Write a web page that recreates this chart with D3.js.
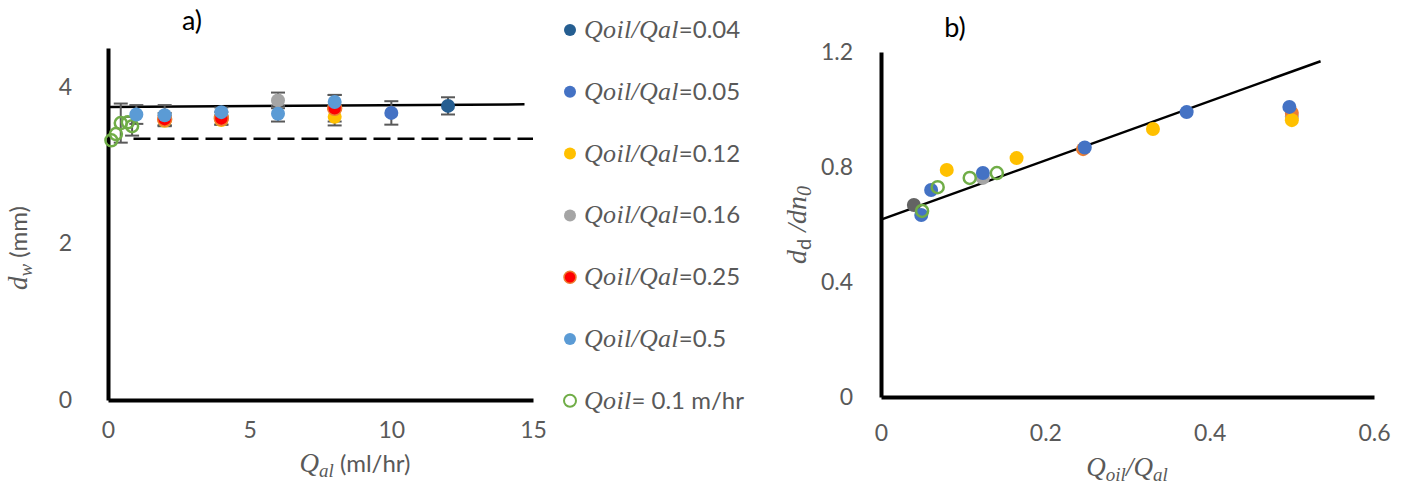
<!DOCTYPE html>
<html>
<head>
<meta charset="utf-8">
<script src="https://cdn.jsdelivr.net/npm/d3@7"></script>
<style>
  body { margin: 0; background: #fff; }
  svg { display: block; }
  .tick text { font-family: Lato, "Open Sans", sans-serif; font-size: 23px; fill: #595959; }
  .axis path.domain { stroke: #000; stroke-width: 4; }
  .lbl { font-family: Lato, "Open Sans", sans-serif; font-size: 23px; fill: #595959; }
  .math { font-family: "Liberation Serif", "DejaVu Serif", serif; font-style: italic; }
</style>
</head>
<body>
<div id="plot"></div>
<script>
const WIDTH  = 1408;
const HEIGHT = 491;

// ---- chart a) : d_w vs Q_al ----
const A_X_TICKS = [0, 5, 10, 15];
const A_Y_TICKS = [0, 2, 4];

// each series: x (ml/hr), y (mm), error (mm)
const A_NAVY_X   = [12];
const A_NAVY_Y   = [3.76];
const A_NAVY_E   = [0.11];
const A_BLUE_X   = [10];
const A_BLUE_Y   = [3.67];
const A_BLUE_E   = [0.15];
const A_YEL_X    = [2, 4, 8];
const A_YEL_Y    = [3.57, 3.58, 3.62];
const A_YEL_E    = [0.07, 0.06, 0.11];
const A_GREY_X   = [6];
const A_GREY_Y   = [3.83];
const A_GREY_E   = [0.10];
const A_RED_X    = [2, 4, 8];
const A_RED_Y    = [3.59, 3.60, 3.73];
const A_RED_E    = [0.08, 0.08, 0.17];
const A_LBLUE_X  = [1, 2, 4, 6, 8];
const A_LBLUE_Y  = [3.65, 3.64, 3.68, 3.66, 3.81];
const A_LBLUE_E  = [0.12, 0.13, 0.06, 0.10, 0.09];
const A_GREEN_X  = [0.12, 0.28, 0.45, 0.7, 0.85];
const A_GREEN_Y  = [3.32, 3.40, 3.54, 3.55, 3.50];
const A_GREEN_E  = [0.0, 0.0, 0.25, 0.0, 0.12];

const A_FIT_X    = [0, 14.7];
const A_FIT_Y    = [3.745, 3.78];
const A_DASH_X   = [0.9, 15];
const A_DASH_Y   = [3.34, 3.34];

// ---- chart b) : d_d/dn_0 vs Q_oil/Q_al ----
const B_X_TICKS = [0, 0.2, 0.4, 0.6];
const B_Y_TICKS = [0, 0.4, 0.8, 1.2];

const B_DARK_X  = [0.04];
const B_DARK_Y  = [0.668];
const B_GREY_X  = [0.124, 0.5];
const B_GREY_Y  = [0.762, 0.975];
const B_ORNG_X  = [0.246, 0.5];
const B_ORNG_Y  = [0.862, 0.988];
const B_YEL_X   = [0.08, 0.165, 0.331, 0.5];
const B_YEL_Y   = [0.79, 0.831, 0.932, 0.963];
const B_BLUE_X  = [0.049, 0.061, 0.124, 0.248, 0.372, 0.497];
const B_BLUE_Y  = [0.633, 0.72, 0.779, 0.868, 0.991, 1.009];
const B_GREEN_X = [0.05, 0.069, 0.108, 0.141];
const B_GREEN_Y = [0.647, 0.73, 0.762, 0.779];

const B_FIT_X   = [0, 0.535];
const B_FIT_Y   = [0.617, 1.168];

// ---- legend ----
const LEGEND_MATH = ["Qoil/Qal", "Qoil/Qal", "Qoil/Qal", "Qoil/Qal", "Qoil/Qal", "Qoil/Qal", "Qoil"];
const LEGEND_TEXT = ["=0.04", "=0.05", "=0.12", "=0.16", "=0.25", "=0.5", "= 0.1 m/hr"];
const LEGEND_FILL = ["#255e91", "#4472c4", "#ffc000", "#a5a5a5", "#ff0000", "#5b9bd5", "none"];
const LEGEND_STROKE = ["none", "none", "none", "none", "#ed7d31", "none", "#70ad47"];

var svg = d3.select("#plot")
            .append("svg")
            .attr("width", WIDTH)
            .attr("height", HEIGHT);

function zip(xs, ys, es) {
    return xs.map((x, i) => ({x: x, y: ys[i], e: es ? es[i] : 0}));
}

// ================= chart a =================
var xA = d3.scaleLinear().domain([0, 15]).range([108, 533]);
var yA = d3.scaleLinear().domain([0, 4.5]).range([400, 48]);

svg.append("g")
   .attr("class", "axis")
   .attr("transform", "translate(0," + yA(0) + ")")
   .call(d3.axisBottom(xA).tickValues(A_X_TICKS).tickSize(0).tickSizeOuter(0).tickPadding(22).tickFormat(d3.format("d")));
svg.append("g")
   .attr("class", "axis")
   .attr("transform", "translate(" + xA(0) + ",0)")
   .call(d3.axisLeft(yA).tickValues(A_Y_TICKS).tickSize(0).tickSizeOuter(0).tickPadding(36).tickFormat(d3.format("d")));

var lineA = d3.line().x(d => xA(d.x)).y(d => yA(d.y));
svg.append("path")
   .attr("d", lineA(zip(A_DASH_X, A_DASH_Y)))
   .attr("fill", "none").attr("stroke", "#000")
   .attr("stroke-width", 2.5).attr("stroke-dasharray", "17,7");
svg.append("path")
   .attr("d", lineA(zip(A_FIT_X, A_FIT_Y)))
   .attr("fill", "none").attr("stroke", "#000")
   .attr("stroke-width", 2.5);

var seriesA = [
    {pts: zip(A_GREEN_X, A_GREEN_Y, A_GREEN_E), fill: "none", stroke: "#70ad47", open: true},
    {pts: zip(A_YEL_X, A_YEL_Y, A_YEL_E), fill: "#ffc000", stroke: "none"},
    {pts: zip(A_RED_X, A_RED_Y, A_RED_E), fill: "#ff0000", stroke: "#ed7d31"},
    {pts: zip(A_GREY_X, A_GREY_Y, A_GREY_E), fill: "#a5a5a5", stroke: "none"},
    {pts: zip(A_LBLUE_X, A_LBLUE_Y, A_LBLUE_E), fill: "#5b9bd5", stroke: "none"},
    {pts: zip(A_BLUE_X, A_BLUE_Y, A_BLUE_E), fill: "#4472c4", stroke: "none"},
    {pts: zip(A_NAVY_X, A_NAVY_Y, A_NAVY_E), fill: "#255e91", stroke: "none"}
];

// error bars behind markers
seriesA.forEach(function(s) {
    var g = svg.append("g").attr("stroke", "#595959").attr("stroke-width", 2);
    s.pts.filter(d => d.e > 0).forEach(function(d) {
        g.append("line").attr("x1", xA(d.x)).attr("x2", xA(d.x))
         .attr("y1", yA(d.y - d.e)).attr("y2", yA(d.y + d.e));
        [d.y - d.e, d.y + d.e].forEach(function(v) {
            g.append("line").attr("x1", xA(d.x) - 7).attr("x2", xA(d.x) + 7)
             .attr("y1", yA(v)).attr("y2", yA(v));
        });
    });
});

function drawMarkers(series, xs, ys) {
    series.forEach(function(s) {
        svg.append("g").selectAll("circle")
           .data(s.pts)
           .enter()
           .append("circle")
           .attr("cx", d => xs(d.x))
           .attr("cy", d => ys(d.y))
           .attr("r", s.open ? 6 : 7)
           .attr("fill", s.fill)
           .attr("stroke", s.stroke)
           .attr("stroke-width", s.open ? 2.5 : 1.5);
    });
}
drawMarkers(seriesA, xA, yA);

// titles a
svg.append("text").attr("class", "lbl").attr("x", 192).attr("y", 30)
   .attr("text-anchor", "middle").style("fill", "#000").style("font-size", "27px").text("a)");

var xtA = svg.append("text").attr("class", "lbl").attr("x", 355).attr("y", 472).attr("text-anchor", "middle")
   .style("font-size", "24px");
xtA.append("tspan").attr("class", "math").style("font-size", "27px").text("Q");
xtA.append("tspan").attr("class", "math").attr("dy", 5).style("font-size", "19px").text("al");
xtA.append("tspan").attr("dy", -5).text(" (ml/hr)");

var ytA = svg.append("text").attr("class", "lbl").style("font-size", "24px")
   .attr("transform", "translate(27,248) rotate(-90)").attr("text-anchor", "middle");
ytA.append("tspan").attr("class", "math").style("font-size", "27px").text("d");
ytA.append("tspan").attr("class", "math").attr("dy", 5).style("font-size", "19px").text("w");
ytA.append("tspan").attr("dy", -5).text(" (mm)");

// ================= legend =================
var legend = svg.append("g");
LEGEND_TEXT.forEach(function(t, i) {
    var y = 30 + i * 61.8;
    legend.append("circle")
          .attr("cx", 570).attr("cy", y).attr("r", 6)
          .attr("fill", LEGEND_FILL[i])
          .attr("stroke", LEGEND_STROKE[i])
          .attr("stroke-width", LEGEND_FILL[i] == "none" ? 2 : 1.5);
    var tx = legend.append("text").attr("class", "lbl")
                   .attr("x", 584).attr("y", y + 8).style("font-size", "24px");
    tx.append("tspan").attr("class", "math").style("font-size", "26px")
      .style("letter-spacing", "0.3px").text(LEGEND_MATH[i]);
    tx.append("tspan").text(t);
});

// ================= chart b =================
var xB = d3.scaleLinear().domain([0, 0.6]).range([881, 1374]);
var yB = d3.scaleLinear().domain([0, 1.2]).range([397, 52]);

svg.append("g")
   .attr("class", "axis")
   .attr("transform", "translate(0," + yB(0) + ")")
   .call(d3.axisBottom(xB).tickValues(B_X_TICKS).tickSize(0).tickSizeOuter(0).tickPadding(28).tickFormat(d => d == 0 ? "0" : d3.format(".1f")(d)));
svg.append("g")
   .attr("class", "axis")
   .attr("transform", "translate(" + xB(0) + ",0)")
   .call(d3.axisLeft(yB).tickValues(B_Y_TICKS).tickSize(0).tickSizeOuter(0).tickPadding(28).tickFormat(d => d == 0 ? "0" : d3.format(".1f")(d)));

var lineB = d3.line().x(d => xB(d.x)).y(d => yB(d.y));
svg.append("path")
   .attr("d", lineB(zip(B_FIT_X, B_FIT_Y)))
   .attr("fill", "none").attr("stroke", "#000")
   .attr("stroke-width", 2.5);

var seriesB = [
    {pts: zip(B_GREY_X, B_GREY_Y), fill: "#a5a5a5", stroke: "none"},
    {pts: zip(B_DARK_X, B_DARK_Y), fill: "#636363", stroke: "none"},
    {pts: zip(B_ORNG_X, B_ORNG_Y), fill: "#ed7d31", stroke: "none"},
    {pts: zip(B_YEL_X, B_YEL_Y), fill: "#ffc000", stroke: "none"},
    {pts: zip(B_BLUE_X, B_BLUE_Y), fill: "#4472c4", stroke: "none"},
    {pts: zip(B_GREEN_X, B_GREEN_Y), fill: "none", stroke: "#70ad47", open: true}
];
drawMarkers(seriesB, xB, yB);

svg.append("text").attr("class", "lbl").attr("x", 955).attr("y", 37)
   .attr("text-anchor", "middle").style("fill", "#000").style("font-size", "27px").text("b)");

var xtB = svg.append("text").attr("class", "lbl").attr("x", 1127).attr("y", 476).attr("text-anchor", "middle");
xtB.append("tspan").attr("class", "math").style("font-size", "27px").text("Q");
xtB.append("tspan").attr("class", "math").attr("dy", 5).style("font-size", "19px").text("oil");
xtB.append("tspan").attr("class", "math").attr("dy", -5).style("font-size", "27px").text("/Q");
xtB.append("tspan").attr("class", "math").attr("dy", 5).style("font-size", "19px").text("al");

var ytB = svg.append("text").attr("class", "lbl")
   .attr("transform", "translate(806,225) rotate(-90)").attr("text-anchor", "middle");
ytB.append("tspan").attr("class", "math").style("font-size", "28px").text("d");
ytB.append("tspan").attr("dy", 5).style("font-size", "20px").text("d");
ytB.append("tspan").attr("class", "math").attr("dy", -5).style("font-size", "28px").text(" /dn");
ytB.append("tspan").attr("class", "math").attr("dy", 5).style("font-size", "20px").text("0");
</script>
</body>
</html>
